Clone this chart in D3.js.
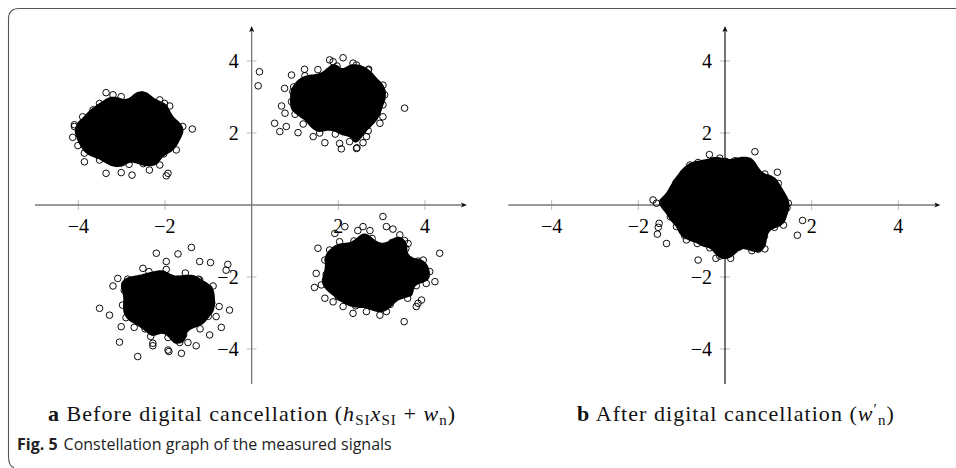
<!DOCTYPE html>
<html>
<head>
<meta charset="utf-8">
<script src="https://cdn.jsdelivr.net/npm/d3@7"></script>
<style>
  html, body { margin: 0; padding: 0; background: #fff; }
  svg { display: block; }
</style>
</head>
<body>
<svg id="fig" width="956" height="468"></svg>
<script>
// Axis ticks shared by both constellation panels
const xTicks = [-4, -2, 2, 4];
const yTicks = [-4, -2, 2, 4];

// (a) received samples before digital cancellation, one cloud per SI symbol
const beforeNW = [
  [-3.36,3.12],[-3.20,3.06],[-3.01,3.01],[-2.57,3.02],[-2.53,3.05],[-2.49,2.99],[-2.55,2.96],[-2.12,2.92],
  [-2.01,2.82],[-1.89,2.75],[-3.90,2.45],[-4.09,2.23],[-4.09,2.18],[-4.13,1.88],[-4.01,1.65],[-3.86,1.44],
  [-3.86,1.20],[-3.86,2.00],[-1.37,2.11],[-1.59,2.18],[-1.74,2.15],[-1.74,1.90],[-1.74,1.53],[-1.93,0.88],
  [-1.97,0.81],[-3.36,0.88],[-3.01,0.90],[-2.76,0.83],[-2.36,0.97],[-2.12,1.11],[-3.51,1.25],[-3.66,2.64],
  [-3.51,2.82],
  [-1.78,2.04],[-1.82,2.25],[-1.93,2.40],[-2.04,2.63],[-2.30,2.72],[-2.51,2.85],[-2.78,2.88],[-3.05,2.80],
  [-3.36,2.76],[-3.52,2.58],[-3.70,2.45],[-3.79,2.20],[-3.83,1.97],[-3.80,1.76],[-3.68,1.60],[-3.55,1.38],
  [-3.30,1.24],[-3.09,1.16],[-2.83,1.13],[-2.50,1.15],[-2.26,1.28],[-2.03,1.42],[-1.91,1.56],[-1.76,1.80],
  [-1.98,2.30],[-2.44,2.70],[-3.16,2.68],[-3.62,2.31],[-3.64,1.70],[-3.14,1.29],[-2.47,1.32],[-1.95,1.69],
  [-3.20,2.58],[-2.90,2.62],[-2.60,2.60],[-2.35,2.55],
  [-3.40,2.45],[-3.10,2.47],[-2.82,2.43],[-2.55,2.48],[-2.25,2.42],
  [-3.50,2.30],[-3.25,2.32],[-2.98,2.28],[-2.70,2.33],[-2.42,2.29],[-2.15,2.31],
  [-3.55,2.14],[-3.30,2.17],[-3.05,2.12],[-2.80,2.16],[-2.55,2.13],[-2.30,2.18],[-2.08,2.12],
  [-3.60,1.98],[-3.38,2.02],[-3.12,1.97],[-2.88,2.03],[-2.62,1.99],[-2.40,2.01],[-2.14,1.97],
  [-3.52,1.86],[-3.27,1.83],[-3.00,1.87],[-2.75,1.84],[-2.50,1.86],[-2.25,1.82],[-2.05,1.88],
  [-3.45,1.70],[-3.18,1.72],[-2.92,1.68],[-2.66,1.71],[-2.40,1.69],[-2.15,1.72],
  [-3.35,1.55],[-3.08,1.57],[-2.82,1.53],[-2.55,1.56],[-2.30,1.54],
  [-3.15,1.40],[-2.88,1.42],[-2.60,1.39],[-2.38,1.43]
];

const beforeNE = [
  [0.18,3.70],[0.15,3.31],[0.92,3.61],[1.22,3.77],[1.80,4.03],[1.88,3.98],[2.11,4.09],[2.34,3.94],
  [2.42,3.89],[2.69,3.75],[2.70,3.77],[2.88,3.38],[3.03,3.33],[3.07,3.06],[3.03,2.78],[3.03,2.45],
  [2.96,2.27],[3.53,2.69],[2.65,1.90],[2.57,1.73],[2.42,1.57],[2.43,1.59],[2.07,1.56],[2.03,1.71],
  [1.69,1.73],[1.42,1.90],[1.07,2.01],[0.65,2.04],[0.53,2.27],[0.69,2.75],[0.76,3.24],[0.77,2.55],
  [0.80,2.18],[0.95,3.15],[2.26,1.76],[2.69,2.06],
  [2.98,2.93],[2.94,3.24],[2.71,3.55],[2.33,3.80],[1.97,3.86],[1.53,3.76],[1.23,3.59],[0.97,3.28],
  [0.92,2.87],[1.00,2.52],[1.19,2.25],[1.57,2.00],[1.93,1.97],[2.37,2.04],[2.67,2.21],[2.90,2.56],
  [2.84,3.05],[2.46,3.57],[1.78,3.71],[1.21,3.35],[1.08,2.73],[1.46,2.21],[2.12,2.11],[2.71,2.45],
  [1.60,3.55],[1.90,3.58],[2.20,3.54],[2.45,3.52],
  [1.35,3.40],[1.62,3.42],[1.90,3.38],[2.18,3.41],[2.45,3.39],[2.65,3.42],
  [1.25,3.25],[1.50,3.27],[1.78,3.23],[2.05,3.26],[2.32,3.24],[2.58,3.27],[2.78,3.22],
  [1.18,3.10],[1.42,3.12],[1.70,3.08],[1.97,3.11],[2.24,3.09],[2.50,3.12],[2.75,3.08],
  [1.15,2.95],[1.40,2.97],[1.66,2.93],[1.93,2.96],[2.20,2.94],[2.47,2.97],[2.74,2.93],
  [1.18,2.80],[1.45,2.78],[1.72,2.82],[1.98,2.79],[2.25,2.81],[2.52,2.78],[2.76,2.80],
  [1.22,2.65],[1.50,2.67],[1.78,2.63],[2.05,2.66],[2.32,2.64],[2.60,2.67],
  [1.30,2.50],[1.58,2.52],[1.85,2.48],[2.12,2.51],[2.40,2.49],[2.62,2.52],
  [1.45,2.35],[1.72,2.37],[2.00,2.33],[2.28,2.36],[2.50,2.34],
  [1.65,2.20],[1.95,2.22],[2.25,2.19]
];

const beforeSW = [
  [-1.39,-1.18],[-1.70,-1.36],[-2.20,-1.34],[-1.97,-1.57],[-1.20,-1.57],[-0.95,-1.60],[-0.55,-1.65],[-0.59,-1.81],
  [-2.51,-1.76],[-3.20,-2.25],[-3.09,-2.04],[-2.86,-2.06],[-2.82,-2.18],[-3.51,-2.87],[-3.28,-3.06],[-3.01,-3.38],
  [-3.05,-3.81],[-2.63,-4.21],[-2.28,-3.84],[-2.28,-3.91],[-1.93,-4.03],[-1.91,-4.07],[-1.62,-4.12],[-1.66,-3.82],
  [-1.47,-3.82],[-1.28,-3.91],[-0.97,-3.61],[-0.70,-3.40],[-0.51,-2.92],[-0.75,-2.82],[-0.82,-3.10],[-0.89,-2.25],
  [-0.98,-2.33],[-1.20,-2.08],
  [-0.92,-2.72],[-0.97,-2.41],[-1.23,-2.06],[-1.53,-1.89],[-1.97,-1.79],[-2.37,-1.85],[-2.67,-2.10],[-2.94,-2.37],
  [-2.98,-2.78],[-2.90,-3.13],[-2.71,-3.40],[-2.33,-3.65],[-1.93,-3.68],[-1.57,-3.61],[-1.19,-3.44],[-1.00,-3.09],
  [-1.06,-2.60],[-1.44,-2.08],[-2.12,-1.94],[-2.69,-2.30],[-2.82,-2.92],[-2.46,-3.44],[-1.78,-3.54],[-1.21,-3.20],
  [-2.30,-2.05],[-2.00,-2.02],[-1.70,-2.06],
  [-2.55,-2.20],[-2.28,-2.18],[-2.00,-2.22],[-1.72,-2.19],[-1.45,-2.21],
  [-2.68,-2.35],[-2.42,-2.37],[-2.15,-2.33],[-1.88,-2.36],[-1.60,-2.34],[-1.33,-2.36],
  [-2.75,-2.50],[-2.50,-2.52],[-2.22,-2.48],[-1.95,-2.51],[-1.68,-2.49],[-1.40,-2.52],[-1.18,-2.48],
  [-2.78,-2.65],[-2.52,-2.67],[-2.25,-2.63],[-1.98,-2.66],[-1.70,-2.64],[-1.43,-2.67],[-1.16,-2.63],
  [-2.76,-2.80],[-2.50,-2.78],[-2.23,-2.82],[-1.96,-2.79],[-1.69,-2.81],[-1.42,-2.78],[-1.17,-2.80],
  [-2.70,-2.95],[-2.45,-2.97],[-2.18,-2.93],[-1.90,-2.96],[-1.63,-2.94],[-1.37,-2.97],[-1.20,-2.93],
  [-2.62,-3.10],[-2.35,-3.12],[-2.08,-3.08],[-1.80,-3.11],[-1.53,-3.09],[-1.30,-3.12],
  [-2.48,-3.25],[-2.20,-3.27],[-1.93,-3.23],[-1.65,-3.26],[-1.40,-3.24],
  [-2.25,-3.40],[-1.95,-3.42],[-1.65,-3.39]
];

const beforeSE = [
  [3.03,-0.32],[2.15,-0.60],[2.45,-0.71],[2.57,-0.60],[2.73,-0.71],[3.11,-0.60],[3.26,-0.67],[3.42,-0.83],
  [3.53,-0.99],[3.61,-1.07],[1.92,-0.79],[2.03,-1.02],[1.53,-1.20],[1.80,-1.25],[1.69,-1.53],[1.49,-1.90],
  [1.61,-2.22],[1.45,-2.29],[1.69,-2.59],[1.88,-2.69],[2.11,-2.82],[2.34,-3.01],[2.65,-2.96],[2.96,-3.06],
  [3.11,-2.96],[3.52,-3.24],[3.84,-2.73],[3.80,-2.82],[3.92,-2.64],[4.03,-2.18],[4.23,-2.13],[3.96,-1.99],
  [4.11,-1.85],[4.34,-1.34],[3.96,-1.53],[3.96,-1.71],
  [3.88,-1.87],[3.84,-1.56],[3.56,-1.21],[3.24,-1.04],[2.78,-0.93],[2.36,-1.00],[2.04,-1.25],[1.76,-1.52],
  [1.72,-1.93],[1.80,-2.28],[2.00,-2.55],[2.40,-2.80],[2.82,-2.83],[3.20,-2.76],[3.60,-2.59],[3.80,-2.24],
  [3.74,-1.73],[3.32,-1.23],[2.62,-1.09],[2.02,-1.45],[1.86,-2.07],[2.28,-2.59],[2.98,-2.71],[3.60,-2.35],
  [2.45,-1.15],[2.75,-1.12],[3.05,-1.16],
  [2.15,-1.30],[2.42,-1.28],[2.70,-1.32],[2.98,-1.29],[3.25,-1.31],
  [2.02,-1.45],[2.28,-1.47],[2.55,-1.43],[2.82,-1.46],[3.10,-1.44],[3.38,-1.47],
  [1.98,-1.60],[2.24,-1.62],[2.50,-1.58],[2.78,-1.61],[3.05,-1.59],[3.32,-1.62],[3.55,-1.58],
  [1.95,-1.75],[2.20,-1.73],[2.48,-1.77],[2.75,-1.74],[3.02,-1.76],[3.30,-1.73],[3.58,-1.77],
  [1.96,-1.90],[2.22,-1.92],[2.50,-1.88],[2.78,-1.91],[3.05,-1.89],[3.33,-1.92],[3.60,-1.88],
  [1.98,-2.05],[2.25,-2.03],[2.52,-2.07],[2.80,-2.04],[3.07,-2.06],[3.35,-2.03],[3.58,-2.07],
  [2.03,-2.20],[2.30,-2.22],[2.57,-2.18],[2.85,-2.21],[3.12,-2.19],[3.40,-2.22],
  [2.12,-2.35],[2.40,-2.37],[2.68,-2.33],[2.95,-2.36],[3.22,-2.34],[3.45,-2.37],
  [2.30,-2.50],[2.58,-2.52],[2.85,-2.48],[3.12,-2.51],[3.35,-2.49],
  [2.55,-2.65],[2.85,-2.67],[3.15,-2.63]
];

// (b) residual noise after digital cancellation
const afterResidual = [
  [0.69,1.48],[-0.36,1.40],[-0.12,1.30],[0.23,1.23],[0.48,1.18],[0.58,1.08],[1.21,0.91],[1.23,0.60],
  [1.31,0.23],[1.46,0.05],[1.43,-0.08],[1.31,-0.37],[1.35,-0.56],[1.79,-0.43],[1.67,-0.84],[0.92,-1.22],
  [0.77,-1.23],[0.62,-1.27],[0.12,-1.34],[-0.12,-1.42],[-0.62,-1.53],[-0.21,-1.48],[0.13,-1.48],[0.77,-0.97],
  [-0.89,-0.97],[-1.35,-1.07],[-1.56,-0.81],[-1.54,-0.62],[-1.52,-0.51],[-1.66,0.14],[-1.58,0.05],[-1.42,0.06],
  [-1.19,0.28],[-1.08,0.65],[-0.96,0.88],[-0.81,1.11],[-0.62,1.18],
  [1.28,0.03],[1.25,0.33],[1.13,0.59],[0.92,0.86],[0.66,1.05],[0.34,1.19],[0.02,1.21],[-0.33,1.17],
  [-0.67,1.06],[-0.91,0.87],[-1.13,0.62],[-1.25,0.31],[-1.29,-0.02],[-1.26,-0.33],[-1.12,-0.60],[-0.93,-0.85],
  [-0.64,-1.07],[-0.35,-1.19],[0.01,-1.23],[0.33,-1.17],[0.66,-1.05],[0.91,-0.87],[1.14,-0.62],[1.25,-0.31],
  [1.11,0.14],[0.89,0.64],[0.43,0.97],[-0.15,1.04],[-0.68,0.83],[-1.03,0.40],[-1.11,-0.14],[-0.89,-0.64],
  [-0.43,-0.97],[0.15,-1.04],[0.68,-0.83],[1.03,-0.40],
  [-0.45,0.90],[-0.15,0.93],[0.15,0.89],[0.45,0.92],
  [-0.70,0.72],[-0.42,0.74],[-0.14,0.70],[0.14,0.73],[0.42,0.71],[0.70,0.74],
  [-0.85,0.54],[-0.58,0.56],[-0.30,0.52],[-0.02,0.55],[0.26,0.53],[0.54,0.56],[0.82,0.52],
  [-0.95,0.36],[-0.68,0.38],[-0.40,0.34],[-0.12,0.37],[0.16,0.35],[0.44,0.38],[0.72,0.34],[0.95,0.37],
  [-1.00,0.18],[-0.73,0.20],[-0.45,0.16],[-0.17,0.19],[0.11,0.17],[0.39,0.20],[0.67,0.16],[0.95,0.19],
  [-1.02,0.00],[-0.75,-0.02],[-0.47,0.02],[-0.19,-0.01],[0.09,0.01],[0.37,-0.02],[0.65,0.02],[0.93,-0.01],
  [-1.00,-0.18],[-0.72,-0.16],[-0.44,-0.20],[-0.16,-0.17],[0.12,-0.19],[0.40,-0.16],[0.68,-0.20],[0.95,-0.17],
  [-0.95,-0.36],[-0.67,-0.38],[-0.39,-0.34],[-0.11,-0.37],[0.17,-0.35],[0.45,-0.38],[0.73,-0.34],[0.94,-0.37],
  [-0.85,-0.54],[-0.57,-0.56],[-0.29,-0.52],[-0.01,-0.55],[0.27,-0.53],[0.55,-0.56],[0.82,-0.52],
  [-0.70,-0.72],[-0.42,-0.74],[-0.14,-0.70],[0.14,-0.73],[0.42,-0.71],[0.70,-0.74],
  [-0.45,-0.90],[-0.15,-0.93],[0.15,-0.89],[0.45,-0.92]
];

const W = 956, H = 468;
const svg = d3.select("#fig");
svg.append("rect").attr("width", W).attr("height", H).attr("fill", "#fff");

// Figure frame: rounded bracket on the left with a rule across the top
svg.append("path")
  .attr("d", "M 960 8.5 H 19 Q 8.5 8.5 8.5 19 V 456 Q 8.5 466.5 14 467.5")
  .attr("fill", "none").attr("stroke", "#555").attr("stroke-width", 1.1);

const fmt = d3.format("d");   // d3 prints negatives with U+2212

function drawPanel(opts) {
  const xs = d3.scaleLinear().domain([-5, 5]).range(opts.xRange);
  const ys = d3.scaleLinear().domain([-5, 5]).range([385, 25]);
  const g = svg.append("g");

  // tick marks
  g.selectAll(".xt").data(xTicks).join("line")
    .attr("x1", d => xs(d)).attr("x2", d => xs(d))
    .attr("y1", ys(0) - 5).attr("y2", ys(0) + 5)
    .attr("stroke", "#bbb").attr("stroke-width", 1);
  g.selectAll(".yt").data(yTicks).join("line")
    .attr("y1", d => ys(d)).attr("y2", d => ys(d))
    .attr("x1", xs(0) - 5).attr("x2", xs(0) + 5)
    .attr("stroke", "#bbb").attr("stroke-width", 1);

  // axis lines with arrow heads
  const xEnd = xs(4.97), yEnd = ys(4.97);
  g.append("line").attr("x1", xs(-5)).attr("x2", xEnd - 3)
    .attr("y1", ys(0)).attr("y2", ys(0))
    .attr("stroke", "#777").attr("stroke-width", 1.3);
  g.append("line").attr("x1", xs(0)).attr("x2", xs(0))
    .attr("y1", ys(-4.97)).attr("y2", yEnd + 3)
    .attr("stroke", opts.yAxisColor).attr("stroke-width", opts.yAxisWidth);
  g.append("path")
    .attr("d", `M ${xEnd} ${ys(0)} L ${xEnd - 6} ${ys(0) - 2.6} L ${xEnd - 4.6} ${ys(0)} L ${xEnd - 6} ${ys(0) + 2.6} Z`)
    .attr("fill", "#111");
  g.append("path")
    .attr("d", `M ${xs(0)} ${yEnd} L ${xs(0) - 2.6} ${yEnd + 6} L ${xs(0)} ${yEnd + 4.6} L ${xs(0) + 2.6} ${yEnd + 6} Z`)
    .attr("fill", "#111");

  // tick labels
  const tickFont = "'Liberation Serif', 'DejaVu Serif', serif";
  g.selectAll(".xl").data(xTicks).join("text")
    .attr("x", d => xs(d)).attr("y", ys(0) + 28)
    .attr("text-anchor", "middle")
    .attr("font-family", tickFont).attr("font-size", 20).attr("fill", "#000")
    .text(fmt);
  g.selectAll(".yl").data(yTicks).join("text")
    .attr("x", xs(0) - 13).attr("y", d => ys(d) + 7)
    .attr("text-anchor", "end")
    .attr("font-family", tickFont).attr("font-size", 20).attr("fill", "#000")
    .text(fmt);

  // overplotted cores: where samples pile up the outlines merge into solid black
  opts.clouds.forEach(pts => {
    const density = d3.contourDensity()
      .x(d => xs(d[0])).y(d => ys(d[1]))
      .size([W, H]).cellSize(2).bandwidth(opts.bandwidth);
    let geo;
    if (typeof density.contours === "function") {
      const gen = density.contours(pts);
      geo = gen(gen.max * opts.coreLevel);
    } else {
      const all = density.thresholds(60)(pts);
      const top = all[all.length - 1].value;
      geo = all.reduce((a, c) =>
        Math.abs(c.value - top * opts.coreLevel) < Math.abs(a.value - top * opts.coreLevel) ? c : a);
    }
    g.append("path").attr("d", d3.geoPath()(geo)).attr("fill", "#000");
  });

  // samples
  opts.clouds.forEach(pts => {
    g.append("g").selectAll("circle").data(pts).join("circle")
      .attr("cx", d => xs(d[0])).attr("cy", d => ys(d[1]))
      .attr("r", 3.3)
      .attr("fill", "none").attr("stroke", "#000").attr("stroke-width", 0.95);
  });
}

drawPanel({
  xRange: [35, 468.3],
  clouds: [beforeNW, beforeNE, beforeSW, beforeSE],
  yAxisColor: "#777", yAxisWidth: 1.3,
  bandwidth: 7, coreLevel: 0.55
});
drawPanel({
  xRange: [508.3, 941.7],
  clouds: [afterResidual],
  yAxisColor: "#000", yAxisWidth: 1.1,
  bandwidth: 7, coreLevel: 0.55
});

// Sub-figure captions
const capFont = "'Liberation Serif', 'DejaVu Serif', serif";
function subCaption(cx, parts) {
  const t = svg.append("text").attr("x", cx).attr("y", 421)
    .attr("text-anchor", "middle")
    .attr("font-family", capFont).attr("font-size", 22).attr("letter-spacing", 1.05)
    .attr("fill", "#111");
  parts.forEach(p => {
    const s = t.append("tspan").text(p.t);
    if (p.b) s.attr("font-weight", "bold");
    if (p.i) s.attr("font-style", "italic");
    if (p.dx) s.attr("dx", p.dx);
    if (p.dy) s.attr("dy", p.dy);
    if (p.fs) s.attr("font-size", p.fs);
  });
}
subCaption(252, [
  { t: "a", b: true }, { t: " Before digital cancellation (" },
  { t: "h", i: true }, { t: "SI", fs: 15, dy: 4 },
  { t: "x", i: true, dy: -4 }, { t: "SI", fs: 15, dy: 4 },
  { t: " + ", dy: -4 }, { t: "w", i: true }, { t: "n", fs: 15, dy: 4 },
  { t: ")", dy: -4 }
]);
subCaption(736, [
  { t: "b", b: true }, { t: " After digital cancellation (" },
  { t: "w", i: true }, { t: "′", fs: 15, dy: -7 }, { t: "n", fs: 15, dy: 11 },
  { t: ")", dy: -4 }
]);

// Figure caption
const fc = svg.append("text").attr("x", 17).attr("y", 450)
  .attr("font-family", "'Open Sans', 'Noto Sans', sans-serif").attr("font-size", 16).attr("fill", "#222");
fc.append("tspan").attr("font-weight", "bold").text("Fig. 5");
fc.append("tspan").attr("dx", 6).text("Constellation graph of the measured signals");
</script>
</body>
</html>
